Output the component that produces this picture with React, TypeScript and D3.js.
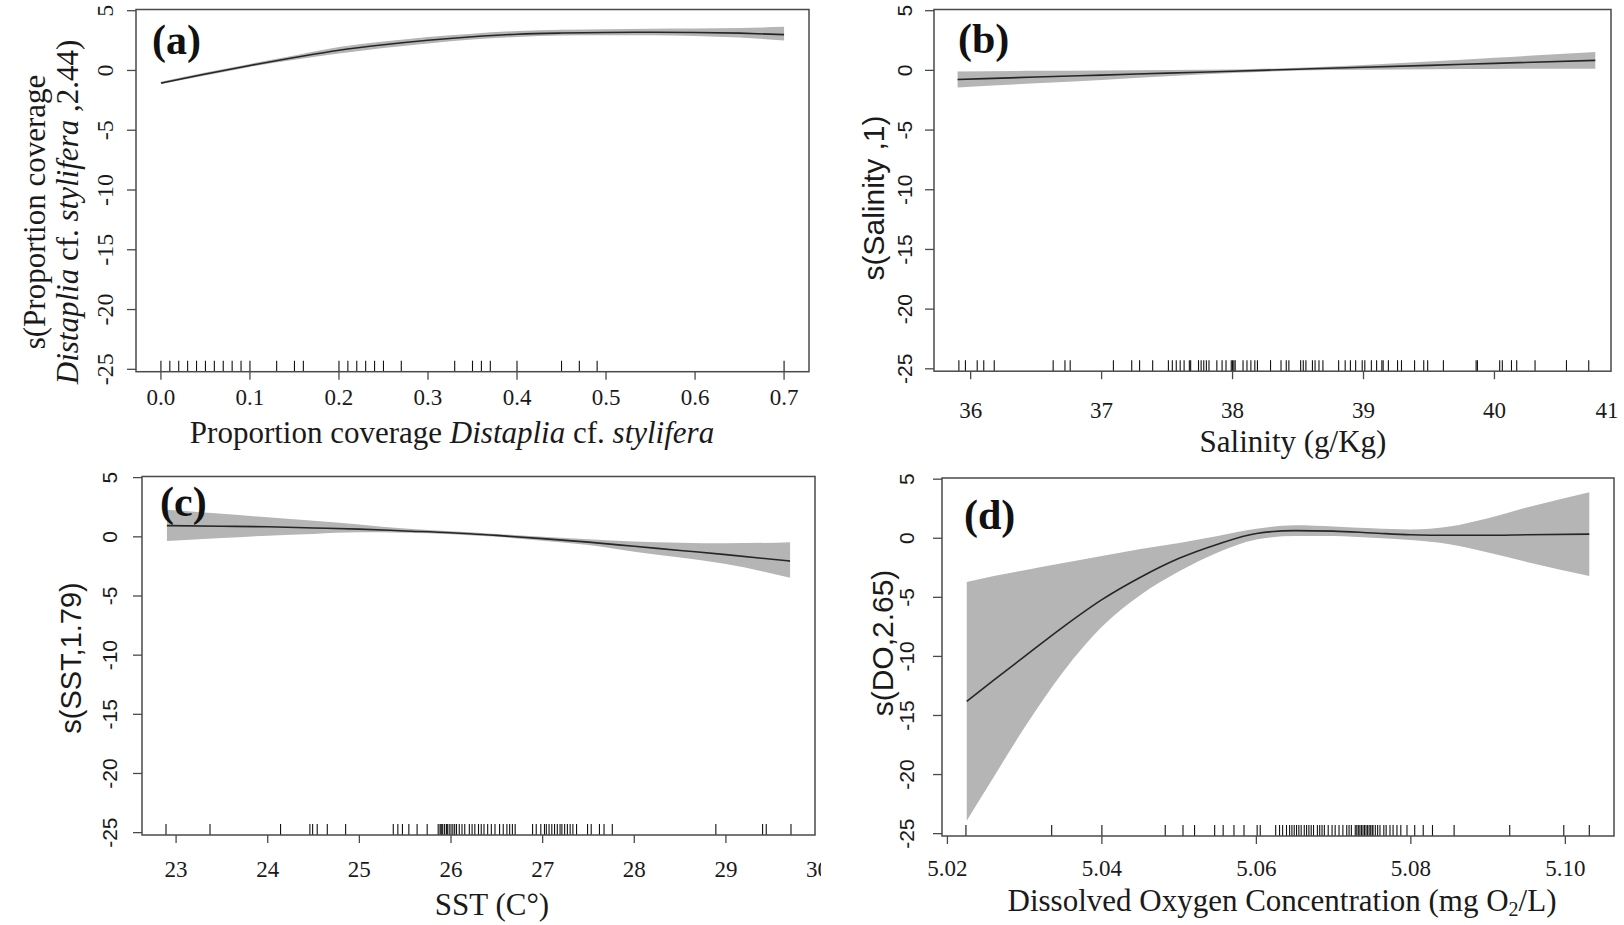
import * as d3 from "d3";

const SERIF = "'Liberation Serif', 'Times New Roman', serif";
const SANS = "'Liberation Sans', Arial, sans-serif";

const yTicks = [-25, -20, -15, -10, -5, 0, 5];

// (a) proportion coverage
const covX = [0, 0.05, 0.1, 0.15, 0.2, 0.25, 0.3, 0.35, 0.4, 0.45, 0.5, 0.55, 0.6, 0.65, 0.7];
const covFit = [-1.05, -0.3, 0.42, 1.08, 1.69, 2.15, 2.53, 2.82, 3.03, 3.13, 3.18, 3.2, 3.18, 3.12, 3.0];
const covLo = [-1.15, -0.42, 0.3, 0.9, 1.42, 1.88, 2.26, 2.58, 2.8, 2.92, 2.95, 2.95, 2.88, 2.75, 2.5];
const covHi = [-0.95, -0.18, 0.55, 1.26, 1.96, 2.42, 2.8, 3.08, 3.3, 3.4, 3.45, 3.5, 3.52, 3.55, 3.65];
const covRug = [0, 0.01, 0.02, 0.03, 0.04, 0.05, 0.06, 0.07, 0.08, 0.09, 0.1, 0.13, 0.15, 0.16, 0.2, 0.21,
  0.22, 0.23, 0.24, 0.25, 0.27, 0.33, 0.35, 0.36, 0.37, 0.4, 0.45, 0.47, 0.49, 0.7];
const covTicks = [0, 0.1, 0.2, 0.3, 0.4, 0.5, 0.6, 0.7];

// (b) salinity
const salX = [35.9, 36.5, 37, 37.5, 38, 38.5, 39, 39.5, 40, 40.77];
const salFit = [-0.76, -0.56, -0.4, -0.23, -0.07, 0.1, 0.26, 0.42, 0.59, 0.84];
const salLo = [-1.43, -1.08, -0.8, -0.5, -0.22, -0.02, 0.06, 0.1, 0.12, 0.14];
const salHi = [-0.09, -0.04, 0.0, 0.04, 0.08, 0.22, 0.46, 0.74, 1.06, 1.54];
const salRug = [35.91, 35.96, 36.05, 36.1, 36.18, 36.63, 36.72, 36.76, 37.09, 37.23, 37.29, 37.39, 37.51,
  37.54, 37.57, 37.6, 37.63, 37.67, 37.68, 37.74, 37.76, 37.78, 37.8, 37.82, 37.88, 37.92, 37.95, 37.99,
  38.0, 38.01, 38.02, 38.08, 38.11, 38.14, 38.17, 38.19, 38.29, 38.37, 38.41, 38.43, 38.52, 38.54, 38.56,
  38.61, 38.63, 38.66, 38.69, 38.81, 38.86, 38.9, 38.94, 38.99, 39.01, 39.06, 39.1, 39.14, 39.15, 39.19,
  39.26, 39.29, 39.39, 39.46, 39.49, 39.61, 39.86, 39.87, 40.04, 40.06, 40.13, 40.17, 40.31, 40.55, 40.72];
const salTicks = [36, 37, 38, 39, 40, 41];

// (c) SST
const sstX = [22.9, 23.5, 24, 24.5, 25, 25.5, 26, 26.5, 27, 27.5, 28, 28.5, 29, 29.7];
const sstFit = [0.95, 0.9, 0.85, 0.75, 0.65, 0.5, 0.35, 0.12, -0.15, -0.45, -0.8, -1.15, -1.5, -2.05];
const sstLo = [-0.35, -0.1, 0.1, 0.25, 0.38, 0.35, 0.22, 0.0, -0.32, -0.7, -1.25, -1.75, -2.3, -3.45];
const sstHi = [2.3, 1.95, 1.65, 1.35, 1.05, 0.7, 0.48, 0.25, 0.0, -0.2, -0.4, -0.5, -0.55, -0.45];
const sstRug = [22.89, 23.37, 24.14, 24.46, 24.49, 24.54, 24.65, 24.85, 25.37, 25.42, 25.47, 25.54, 25.63,
  25.74, 25.86, 25.88, 25.89, 25.9, 25.91, 25.93, 25.95, 25.96, 25.98, 26.0, 26.02, 26.04, 26.06, 26.09,
  26.12, 26.15, 26.2, 26.23, 26.26, 26.3, 26.33, 26.36, 26.4, 26.44, 26.48, 26.53, 26.57, 26.61, 26.64,
  26.67, 26.7, 26.89, 26.93, 26.98, 27.02, 27.04, 27.07, 27.1, 27.13, 27.16, 27.19, 27.21, 27.24, 27.27,
  27.3, 27.33, 27.37, 27.49, 27.53, 27.62, 27.67, 27.76, 28.89, 29.4, 29.44, 29.71];
const sstTicks = [23, 24, 25, 26, 27, 28, 29, 30];

// (d) dissolved oxygen
const doX = [5.0225, 5.026, 5.03, 5.035, 5.04, 5.045, 5.05, 5.055, 5.06, 5.065, 5.07, 5.075, 5.08, 5.085,
  5.09, 5.095, 5.1031];
const doFit = [-13.8, -12.0, -10.0, -7.5, -5.2, -3.3, -1.7, -0.5, 0.4, 0.65, 0.6, 0.45, 0.3, 0.25, 0.25, 0.3, 0.35];
const doLo = [-23.9, -20.2, -16.0, -11.3, -7.5, -4.8, -2.8, -1.2, -0.1, 0.2, 0.2, 0.05, -0.15, -0.5, -1.2, -2.0, -3.2];
const doHi = [-3.7, -3.2, -2.7, -2.1, -1.5, -0.9, -0.4, 0.2, 0.8, 1.1, 1.0, 0.85, 0.75, 1.0, 1.7, 2.6, 3.9];
const doRug = [5.0224, 5.0335, 5.04, 5.0482, 5.0505, 5.052, 5.0546, 5.0557, 5.0571, 5.0584, 5.0601, 5.0605,
  5.0625, 5.063, 5.0634, 5.0639, 5.0643, 5.0646, 5.0649, 5.0652, 5.0655, 5.0658, 5.0662, 5.0665, 5.0668,
  5.0671, 5.0674, 5.0679, 5.0682, 5.0685, 5.0688, 5.0693, 5.0698, 5.0702, 5.0707, 5.0712, 5.0717, 5.072,
  5.0723, 5.0728, 5.073, 5.0732, 5.0734, 5.0736, 5.0738, 5.074, 5.0742, 5.0744, 5.0746, 5.0748, 5.075,
  5.0751, 5.0754, 5.0757, 5.076, 5.0765, 5.0768, 5.0773, 5.0777, 5.0782, 5.0787, 5.0795, 5.0805, 5.0816,
  5.0828, 5.0856, 5.0928, 5.0998, 5.1031];
const doTicks = [5.02, 5.04, 5.06, 5.08, 5.1];

type Cfg = {
  id: string;
  letter: string;
  xs: number[]; fit: number[]; lo: number[]; hi: number[]; rug: number[]; ticks: number[];
  fmt: (v: number) => string;
  xDomain: [number, number];
  left: number; right: number; top: number; bottom: number;
  yTickFont: string; yTickDx: number;
  xLabY: number; titleX: number; titleY: number;
  yTitle: { lines: any[]; x: number[]; y: number; font: string; size: number };
  letterX: number; letterY: number;
  xTitle: any;
  clipRight?: number; labelMaxX?: number;
};

function Panel({ c }: { c: Cfg }) {
  const x = d3.scaleLinear().domain(c.xDomain).range([c.left, c.right]);
  const y = d3.scaleLinear().domain([-25.2, 5.1]).range([c.bottom, c.top]);
  const idx = d3.range(c.xs.length);
  const band = d3.area<number>()
    .x(i => x(c.xs[i])).y0(i => y(c.lo[i])).y1(i => y(c.hi[i]))
    .curve(d3.curveMonotoneX);
  const line = d3.line<number>().x(i => x(c.xs[i])).y(i => y(c.fit[i])).curve(d3.curveMonotoneX);
  const ax = "#4a4a4a";
  return (
    <g clipPath={c.clipRight ? `url(#clip-${c.id})` : undefined}>
      {c.clipRight && (
        <defs>
          <clipPath id={`clip-${c.id}`}>
            <rect x={0} y={c.top - 60} width={c.clipRight} height={c.bottom - c.top + 160} />
          </clipPath>
        </defs>
      )}
      <path d={band(idx) || ""} fill="#b5b5b5" />
      <path d={line(idx) || ""} fill="none" stroke="#262626" strokeWidth={1.6} />
      {c.rug.map((v, i) => (
        <line key={i} x1={x(v)} x2={x(v)} y1={c.bottom} y2={c.bottom - 11} stroke="#111" strokeWidth={1.1} />
      ))}
      <rect x={c.left} y={c.top} width={c.right - c.left} height={c.bottom - c.top}
        fill="none" stroke={ax} strokeWidth={1.5} />
      {c.ticks.filter(t => x(t) <= c.right + 0.5).map(t => (
        <line key={t} x1={x(t)} x2={x(t)} y1={c.bottom} y2={c.bottom + 8} stroke={ax} strokeWidth={1.3} />
      ))}
      {c.ticks.map(t => (
        <text key={t} x={Math.min(x(t), c.labelMaxX ?? 1e9)} y={c.xLabY} textAnchor="middle"
          fontFamily={SERIF} fontSize={23} fill="#1a1a1a">{c.fmt(t)}</text>
      ))}
      {yTicks.map(t => (
        <g key={t}>
          <line x1={c.left - 9} x2={c.left} y1={y(t)} y2={y(t)} stroke={ax} strokeWidth={1.3} />
          <text x={c.left - c.yTickDx} y={y(t)} dy="0.35em" textAnchor="middle"
            transform={`rotate(-90, ${c.left - c.yTickDx}, ${y(t)})`}
            fontFamily={c.yTickFont} fontSize={c.yTickFont === SERIF ? 24 : 21} fill="#1a1a1a">{String(t)}</text>
        </g>
      ))}
      <text x={c.titleX} y={c.titleY} textAnchor="middle" fontFamily={SERIF} fontSize={31} fill="#1a1a1a">
        {c.xTitle}
      </text>
      {c.yTitle.lines.map((ln, i) => (
        <text key={i} x={c.yTitle.x[i]} y={c.yTitle.y} dy="0.35em" textAnchor="middle"
          transform={`rotate(-90, ${c.yTitle.x[i]}, ${c.yTitle.y})`}
          fontFamily={c.yTitle.font} fontSize={c.yTitle.size} fill="#1a1a1a">{ln}</text>
      ))}
      <text x={c.letterX} y={c.letterY} fontFamily={SERIF} fontWeight="bold" fontSize={42} fill="#111">
        {c.letter}
      </text>
    </g>
  );
}

const panels: Cfg[] = [
  {
    id: "a", letter: "(a)", xs: covX, fit: covFit, lo: covLo, hi: covHi, rug: covRug, ticks: covTicks,
    fmt: v => v.toFixed(1), xDomain: [-0.028, 0.728],
    left: 136, right: 809, top: 9.5, bottom: 371.7,
    yTickFont: SERIF, yTickDx: 31, xLabY: 405, titleX: 452, titleY: 443,
    yTitle: {
      lines: ["s(Proportion coverage",
        <><tspan fontStyle="italic">Distaplia</tspan> cf. <tspan fontStyle="italic">stylifera</tspan> ,2.44)</>],
      x: [34, 67], y: 212, font: SERIF, size: 31,
    },
    letterX: 152, letterY: 54,
    xTitle: <>Proportion coverage <tspan fontStyle="italic">Distaplia</tspan> cf. <tspan fontStyle="italic">stylifera</tspan></>,
  },
  {
    id: "b", letter: "(b)", xs: salX, fit: salFit, lo: salLo, hi: salHi, rug: salRug, ticks: salTicks,
    fmt: v => String(v), xDomain: [35.72, 40.89],
    left: 934, right: 1611, top: 9.5, bottom: 371.2,
    yTickFont: SANS, yTickDx: 29, xLabY: 418, titleX: 1293, titleY: 452,
    yTitle: { lines: ["s(Salinity ,1)"], x: [873], y: 198, font: SANS, size: 30 },
    letterX: 958, letterY: 53,
    xTitle: "Salinity  (g/Kg)", labelMaxX: 1607,
  },
  {
    id: "c", letter: "(c)", xs: sstX, fit: sstFit, lo: sstLo, hi: sstHi, rug: sstRug, ticks: sstTicks,
    fmt: v => String(v), xDomain: [22.628, 29.972],
    left: 142, right: 815, top: 476.5, bottom: 835,
    yTickFont: SANS, yTickDx: 32, xLabY: 877, titleX: 492, titleY: 915,
    yTitle: { lines: ["s(SST,1.79)"], x: [71], y: 658, font: SANS, size: 29 },
    letterX: 160, letterY: 516,
    xTitle: "SST  (C°)", clipRight: 821,
  },
  {
    id: "d", letter: "(d)", xs: doX, fit: doFit, lo: doLo, hi: doHi, rug: doRug, ticks: doTicks,
    fmt: v => v.toFixed(2), xDomain: [5.0193, 5.1063],
    left: 942, right: 1614, top: 478, bottom: 836,
    yTickFont: SANS, yTickDx: 35, xLabY: 876, titleX: 1282, titleY: 911,
    yTitle: { lines: ["s(DO,2.65)"], x: [882], y: 643, font: SANS, size: 30 },
    letterX: 964, letterY: 529,
    xTitle: <>Dissolved Oxygen Concentration (mg O<tspan dy={5} fontSize={20}>2</tspan><tspan dy={-5}>/L)</tspan></>,
  },
];

export default function App() {
  return (
    <div style={{ position: "absolute", left: 0, top: 0 }}>
      <svg width={1624} height={925} style={{ display: "block", background: "#fff" }}>
        {panels.map(p => <Panel key={p.id} c={p} />)}
      </svg>
    </div>
  );
}
